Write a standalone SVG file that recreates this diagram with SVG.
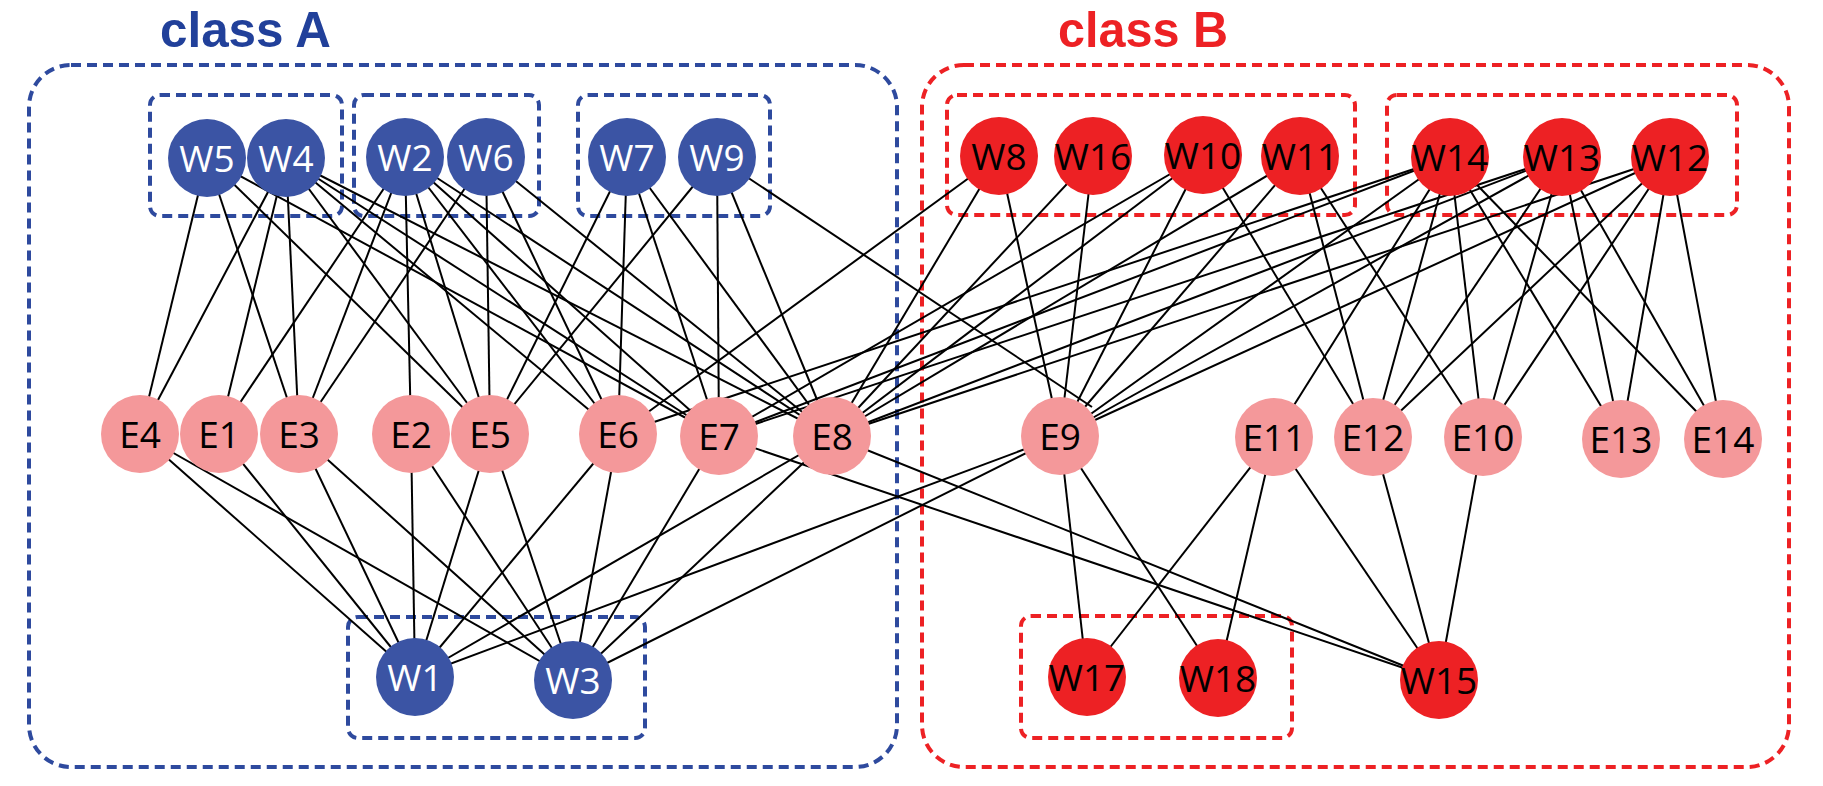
<svg xmlns="http://www.w3.org/2000/svg" width="1823" height="786" viewBox="0 0 1823 786">
<style>
.bg{fill:#ffffff}
.title{font-family:"Liberation Sans",Arial,sans-serif;font-weight:bold;font-size:50px}
.ta{fill:#21409A}
.tb{fill:#ED2124}
.boxa{fill:none;stroke:#2E4A9E;stroke-width:4;stroke-dasharray:10 6}
.boxb{fill:none;stroke:#ED2124;stroke-width:4;stroke-dasharray:10 6}
.edge line{stroke:#000;stroke-width:2}
.wa circle{fill:#3B54A4}
.wb circle{fill:#ED2124}
.e circle{fill:#F4989A}
.lbl{font-family:"Open Sans","Liberation Sans",sans-serif;font-size:37px;text-anchor:middle}
.wa text{fill:#ffffff}
.wb text,.e text{fill:#000000}
</style>
<rect class="bg" x="0" y="0" width="1823" height="786"/>
<text class="title ta" x="160" y="47" textLength="171" lengthAdjust="spacingAndGlyphs">class A</text>
<text class="title tb" x="1058" y="47" textLength="170" lengthAdjust="spacingAndGlyphs">class B</text>
<g id="groups">
<rect class="boxa" x="29" y="65" width="868" height="702" rx="42"/>
<rect class="boxb" x="922" y="65" width="867" height="702" rx="42"/>
<rect class="boxa" x="150" y="95" width="192" height="121" rx="10"/>
<rect class="boxa" x="354" y="95" width="185" height="121" rx="10"/>
<rect class="boxa" x="578" y="95" width="192" height="121" rx="10"/>
<rect class="boxa" x="348" y="617" width="297" height="121" rx="10"/>
<rect class="boxb" x="947" y="95" width="408" height="120" rx="10"/>
<rect class="boxb" x="1387" y="95" width="350" height="120" rx="10"/>
<rect class="boxb" x="1021" y="616" width="271" height="122" rx="10"/>
</g>
<g id="connectors" class="edge">
<!-- W5 -->
<line x1="207" y1="158" x2="140" y2="434"/>
<line x1="207" y1="158" x2="299" y2="434"/>
<line x1="207" y1="158" x2="490" y2="434"/>
<line x1="207" y1="158" x2="719" y2="436"/>
<!-- W4 -->
<line x1="286" y1="158" x2="140" y2="434"/>
<line x1="286" y1="158" x2="219" y2="434"/>
<line x1="286" y1="158" x2="299" y2="434"/>
<line x1="286" y1="158" x2="490" y2="434"/>
<line x1="286" y1="158" x2="618" y2="434"/>
<line x1="286" y1="158" x2="719" y2="436"/>
<line x1="286" y1="158" x2="832" y2="436"/>
<!-- W2 -->
<line x1="405" y1="157" x2="219" y2="434"/>
<line x1="405" y1="157" x2="299" y2="434"/>
<line x1="405" y1="157" x2="411" y2="434"/>
<line x1="405" y1="157" x2="490" y2="434"/>
<line x1="405" y1="157" x2="618" y2="434"/>
<line x1="405" y1="157" x2="719" y2="436"/>
<line x1="405" y1="157" x2="832" y2="436"/>
<!-- W6 -->
<line x1="486" y1="157" x2="299" y2="434"/>
<line x1="486" y1="157" x2="490" y2="434"/>
<line x1="486" y1="157" x2="618" y2="434"/>
<line x1="486" y1="157" x2="832" y2="436"/>
<!-- W7 -->
<line x1="627" y1="157" x2="490" y2="434"/>
<line x1="627" y1="157" x2="618" y2="434"/>
<line x1="627" y1="157" x2="719" y2="436"/>
<line x1="627" y1="157" x2="832" y2="436"/>
<!-- W9 -->
<line x1="717" y1="157" x2="490" y2="434"/>
<line x1="717" y1="157" x2="719" y2="436"/>
<line x1="717" y1="157" x2="832" y2="436"/>
<line x1="717" y1="157" x2="1092" y2="407"/>
<!-- W8 -->
<line x1="999" y1="156" x2="618" y2="434"/>
<line x1="999" y1="156" x2="832" y2="436"/>
<line x1="999" y1="156" x2="1060" y2="436"/>
<!-- W16 -->
<line x1="1093" y1="156" x2="832" y2="436"/>
<line x1="1093" y1="156" x2="1060" y2="436"/>
<!-- W10 -->
<line x1="1203" y1="155" x2="719" y2="436"/>
<line x1="1203" y1="155" x2="832" y2="436"/>
<line x1="1203" y1="155" x2="1060" y2="436"/>
<line x1="1203" y1="155" x2="1373" y2="437"/>
<!-- W11 -->
<line x1="1300" y1="156" x2="832" y2="436"/>
<line x1="1300" y1="156" x2="1060" y2="436"/>
<line x1="1300" y1="156" x2="1373" y2="437"/>
<line x1="1300" y1="156" x2="1483" y2="437"/>
<!-- W14 -->
<line x1="1450" y1="157" x2="618" y2="434"/>
<line x1="1450" y1="157" x2="719" y2="436"/>
<line x1="1450" y1="157" x2="1060" y2="436"/>
<line x1="1450" y1="157" x2="1274" y2="437"/>
<line x1="1450" y1="157" x2="1373" y2="437"/>
<line x1="1450" y1="157" x2="1483" y2="437"/>
<line x1="1450" y1="157" x2="1621" y2="439"/>
<line x1="1450" y1="157" x2="1723" y2="439"/>
<!-- W13 -->
<line x1="1562" y1="157" x2="719" y2="436"/>
<line x1="1562" y1="157" x2="832" y2="436"/>
<line x1="1562" y1="157" x2="1060" y2="436"/>
<line x1="1562" y1="157" x2="1373" y2="437"/>
<line x1="1562" y1="157" x2="1483" y2="437"/>
<line x1="1562" y1="157" x2="1621" y2="439"/>
<line x1="1562" y1="157" x2="1723" y2="439"/>
<!-- W12 -->
<line x1="1670" y1="157" x2="832" y2="436"/>
<line x1="1670" y1="157" x2="1060" y2="436"/>
<line x1="1670" y1="157" x2="1373" y2="437"/>
<line x1="1670" y1="157" x2="1483" y2="437"/>
<line x1="1670" y1="157" x2="1621" y2="439"/>
<line x1="1670" y1="157" x2="1723" y2="439"/>
<!-- W1 -->
<line x1="415" y1="677" x2="140" y2="434"/>
<line x1="415" y1="677" x2="219" y2="434"/>
<line x1="415" y1="677" x2="299" y2="434"/>
<line x1="415" y1="677" x2="411" y2="434"/>
<line x1="415" y1="677" x2="490" y2="434"/>
<line x1="415" y1="677" x2="618" y2="434"/>
<line x1="415" y1="677" x2="832" y2="436"/>
<line x1="415" y1="677" x2="1060" y2="436"/>
<!-- W3 -->
<line x1="573" y1="680" x2="140" y2="434"/>
<line x1="573" y1="680" x2="299" y2="434"/>
<line x1="573" y1="680" x2="411" y2="434"/>
<line x1="573" y1="680" x2="490" y2="434"/>
<line x1="573" y1="680" x2="618" y2="434"/>
<line x1="573" y1="680" x2="719" y2="436"/>
<line x1="573" y1="680" x2="832" y2="436"/>
<line x1="573" y1="680" x2="1060" y2="436"/>
<!-- W15 -->
<line x1="1439" y1="680" x2="719" y2="436"/>
<line x1="1439" y1="680" x2="832" y2="436"/>
<line x1="1439" y1="680" x2="1274" y2="437"/>
<line x1="1439" y1="680" x2="1373" y2="437"/>
<line x1="1439" y1="680" x2="1483" y2="437"/>
<!-- W17, W18 -->
<line x1="1087" y1="677" x2="1060" y2="436"/>
<line x1="1087" y1="677" x2="1274" y2="437"/>
<line x1="1218" y1="678" x2="1060" y2="436"/>
<line x1="1218" y1="678" x2="1274" y2="437"/>
</g>
<g id="W5" class="wa"><circle cx="207" cy="158" r="39"/><text class="lbl" x="207" y="172">W5</text></g>
<g id="W4" class="wa"><circle cx="286" cy="158" r="39"/><text class="lbl" x="286" y="172">W4</text></g>
<g id="W2" class="wa"><circle cx="405" cy="157" r="39"/><text class="lbl" x="405" y="171">W2</text></g>
<g id="W6" class="wa"><circle cx="486" cy="157" r="39"/><text class="lbl" x="486" y="171">W6</text></g>
<g id="W7" class="wa"><circle cx="627" cy="157" r="39"/><text class="lbl" x="627" y="171">W7</text></g>
<g id="W9" class="wa"><circle cx="717" cy="157" r="39"/><text class="lbl" x="717" y="171">W9</text></g>
<g id="E4" class="e"><circle cx="140" cy="434" r="39"/><text class="lbl" x="140" y="448">E4</text></g>
<g id="E1" class="e"><circle cx="219" cy="434" r="39"/><text class="lbl" x="219" y="448">E1</text></g>
<g id="E3" class="e"><circle cx="299" cy="434" r="39"/><text class="lbl" x="299" y="448">E3</text></g>
<g id="E2" class="e"><circle cx="411" cy="434" r="39"/><text class="lbl" x="411" y="448">E2</text></g>
<g id="E5" class="e"><circle cx="490" cy="434" r="39"/><text class="lbl" x="490" y="448">E5</text></g>
<g id="E6" class="e"><circle cx="618" cy="434" r="39"/><text class="lbl" x="618" y="448">E6</text></g>
<g id="E7" class="e"><circle cx="719" cy="436" r="39"/><text class="lbl" x="719" y="450">E7</text></g>
<g id="E8" class="e"><circle cx="832" cy="436" r="39"/><text class="lbl" x="832" y="450">E8</text></g>
<g id="W1" class="wa"><circle cx="415" cy="677" r="39"/><text class="lbl" x="415" y="691">W1</text></g>
<g id="W3" class="wa"><circle cx="573" cy="680" r="39"/><text class="lbl" x="573" y="694">W3</text></g>
<g id="W8" class="wb"><circle cx="999" cy="156" r="39"/><text class="lbl" x="999" y="170">W8</text></g>
<g id="W16" class="wb"><circle cx="1093" cy="156" r="39"/><text class="lbl" x="1093" y="170">W16</text></g>
<g id="W10" class="wb"><circle cx="1203" cy="155" r="39"/><text class="lbl" x="1203" y="169">W10</text></g>
<g id="W11" class="wb"><circle cx="1300" cy="156" r="39"/><text class="lbl" x="1300" y="170">W11</text></g>
<g id="W14" class="wb"><circle cx="1450" cy="157" r="39"/><text class="lbl" x="1450" y="171">W14</text></g>
<g id="W13" class="wb"><circle cx="1562" cy="157" r="39"/><text class="lbl" x="1562" y="171">W13</text></g>
<g id="W12" class="wb"><circle cx="1670" cy="157" r="39"/><text class="lbl" x="1670" y="171">W12</text></g>
<g id="E9" class="e"><circle cx="1060" cy="436" r="39"/><text class="lbl" x="1060" y="450">E9</text></g>
<g id="E11" class="e"><circle cx="1274" cy="437" r="39"/><text class="lbl" x="1274" y="451">E11</text></g>
<g id="E12" class="e"><circle cx="1373" cy="437" r="39"/><text class="lbl" x="1373" y="451">E12</text></g>
<g id="E10" class="e"><circle cx="1483" cy="437" r="39"/><text class="lbl" x="1483" y="451">E10</text></g>
<g id="E13" class="e"><circle cx="1621" cy="439" r="39"/><text class="lbl" x="1621" y="453">E13</text></g>
<g id="E14" class="e"><circle cx="1723" cy="439" r="39"/><text class="lbl" x="1723" y="453">E14</text></g>
<g id="W17" class="wb"><circle cx="1087" cy="677" r="39"/><text class="lbl" x="1087" y="691">W17</text></g>
<g id="W18" class="wb"><circle cx="1218" cy="678" r="39"/><text class="lbl" x="1218" y="692">W18</text></g>
<g id="W15" class="wb"><circle cx="1439" cy="680" r="39"/><text class="lbl" x="1439" y="694">W15</text></g>
</svg>
